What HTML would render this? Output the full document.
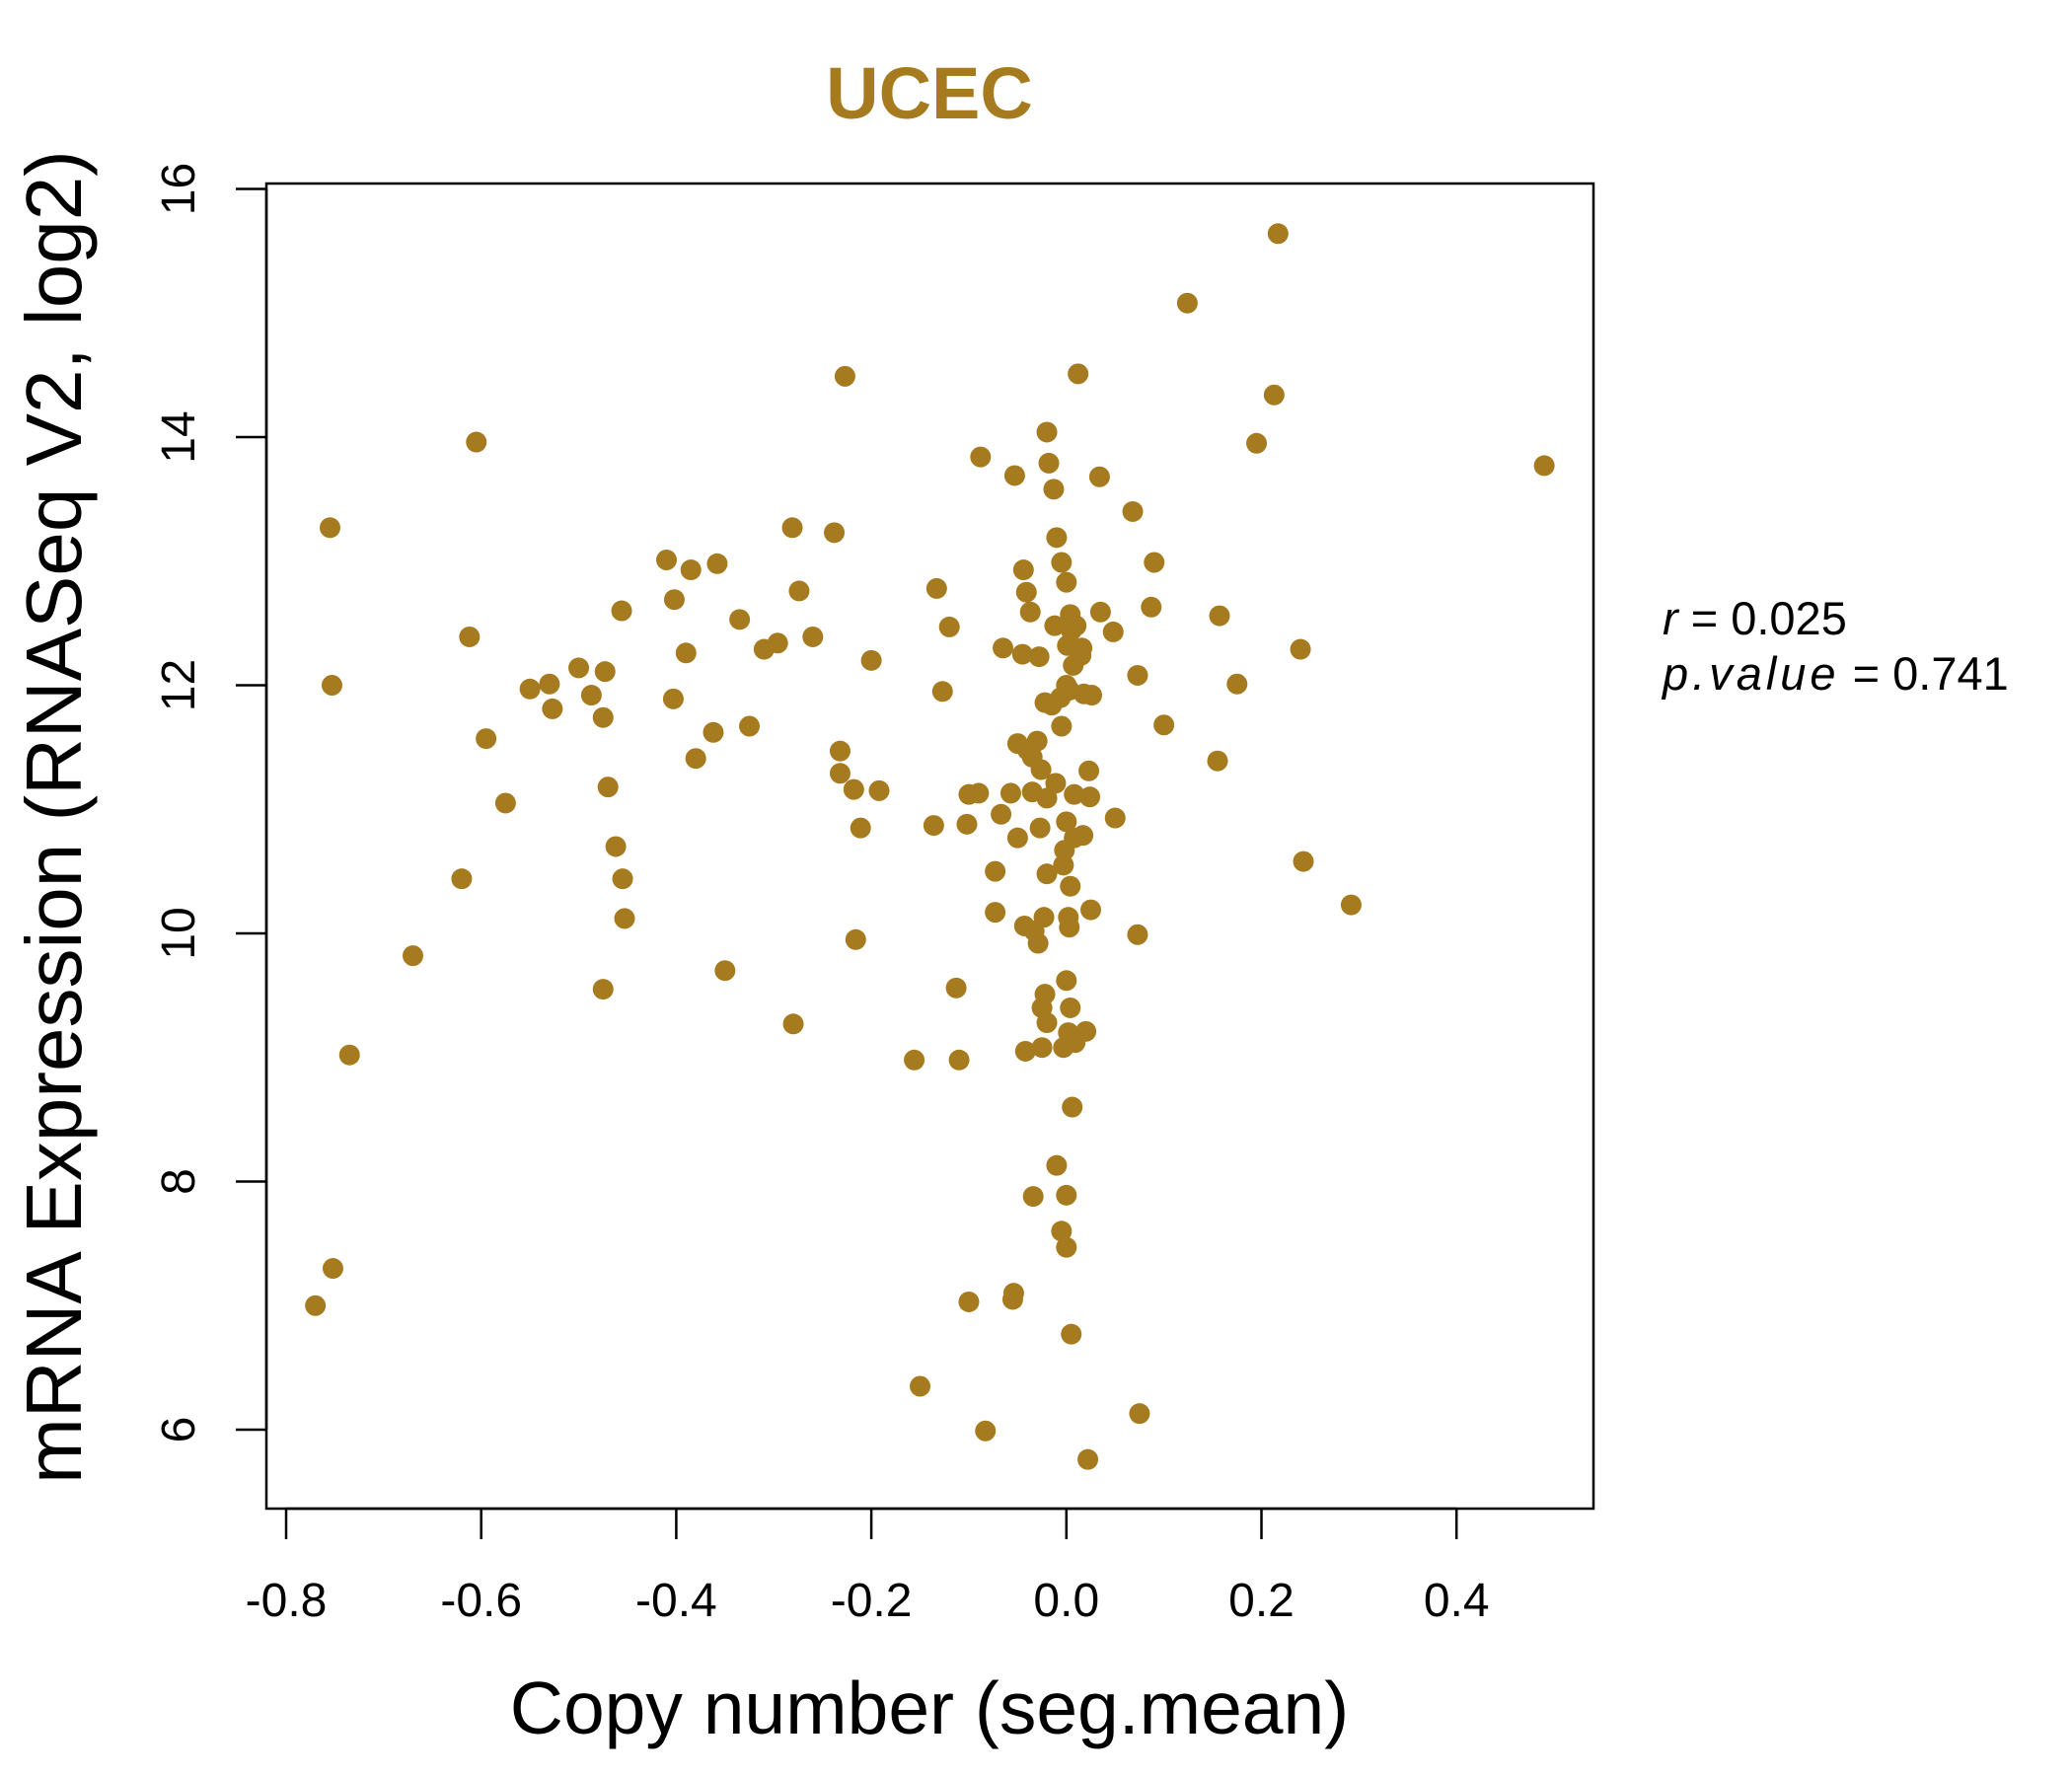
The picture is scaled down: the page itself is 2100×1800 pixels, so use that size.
<!DOCTYPE html>
<html><head><meta charset="utf-8"><style>
body{margin:0;background:#fff}
svg{display:block;font-family:"Liberation Sans",sans-serif}
</style></head><body>
<svg id="chart" width="2100" height="1800" viewBox="0 0 2100 1800">
<rect x="0" y="0" width="2100" height="1800" fill="#fff"/>
<text x="942" y="120" text-anchor="middle" font-size="74" font-weight="bold" fill="#A67A1F">UCEC</text>
<rect x="270" y="186" width="1345" height="1343" fill="none" stroke="#000" stroke-width="2.5"/>
<g id="xticks"></g>
<g id="yticks"></g>
<g id="points"></g>
<text x="942" y="1757" text-anchor="middle" font-size="75">Copy number (seg.mean)</text>
<text transform="translate(82,828) rotate(-90)" text-anchor="middle" font-size="80">mRNA Expression (RNASeq V2, log2)</text>
<text x="1685" y="643" font-size="47"><tspan font-style="italic">r</tspan> = 0.025</text>
<text x="1685" y="699" font-size="47"><tspan font-style="italic" letter-spacing="4">p.value</tspan> = 0.741</text>
</svg>
<script>
const xTicks=[-0.8,-0.6,-0.4,-0.2,0.0,0.2,0.4];
const xTickLabels=["-0.8","-0.6","-0.4","-0.2","0.0","0.2","0.4"];
const yTicks=[6,8,10,12,14,16];
const yTickLabels=["6","8","10","12","14","16"];
const xVals=[-0.77,-0.755,-0.753,-0.752,-0.735,-0.67,-0.62,-0.612,-0.605,-0.595,-0.575,-0.55,-0.53,-0.527,-0.5,-0.487,-0.475,-0.473,-0.47,-0.475,-0.462,-0.456,-0.455,-0.453,-0.41,-0.403,-0.402,-0.39,-0.385,-0.38,-0.362,-0.358,-0.35,-0.335,-0.325,-0.31,-0.296,-0.281,-0.28,-0.274,-0.26,-0.238,-0.232,-0.232,-0.227,-0.218,-0.216,-0.211,-0.2,-0.192,-0.156,-0.15,-0.136,-0.133,-0.127,-0.12,-0.113,-0.11,-0.102,-0.1,-0.1,-0.09,-0.088,-0.083,-0.073,-0.073,-0.067,-0.065,-0.057,-0.055,-0.054,-0.053,-0.05,-0.05,-0.045,-0.044,-0.043,-0.042,-0.041,-0.04,-0.037,-0.035,-0.035,-0.034,-0.033,-0.03,-0.029,-0.028,-0.027,-0.026,-0.025,-0.025,-0.023,-0.022,-0.022,-0.02,-0.02,-0.02,-0.02,-0.018,-0.015,-0.013,-0.012,-0.011,-0.01,-0.01,-0.006,-0.005,-0.005,-0.005,-0.003,-0.003,-0.002,0.0,0.0,0.0,0.0,0.0,0.0,0.001,0.002,0.002,0.003,0.003,0.004,0.004,0.004,0.005,0.005,0.006,0.007,0.008,0.008,0.009,0.01,0.012,0.015,0.016,0.017,0.018,0.02,0.022,0.023,0.024,0.025,0.026,0.034,0.035,0.048,0.05,0.068,0.073,0.073,0.075,0.087,0.09,0.1,0.124,0.155,0.157,0.175,0.195,0.213,0.217,0.24,0.243,0.292,0.49];
const yVals=[7.0,13.27,12.0,7.3,9.02,9.82,10.44,12.39,13.96,11.57,11.05,11.97,12.01,11.81,12.14,11.92,11.74,12.11,11.18,9.55,10.7,12.6,10.44,10.12,13.01,11.89,12.69,12.26,12.93,11.41,11.62,12.98,9.7,12.53,11.67,12.29,12.34,13.27,9.27,12.76,12.39,13.23,11.47,11.29,14.49,11.16,9.95,10.85,12.2,11.15,8.98,6.35,10.87,12.78,11.95,12.47,9.56,8.98,10.88,11.12,7.03,11.13,13.84,5.99,10.5,10.17,10.96,12.3,11.13,7.05,7.1,13.69,11.53,10.77,12.25,12.93,10.06,9.05,12.75,11.48,12.59,11.42,11.14,7.88,10.02,11.55,9.92,12.23,10.85,11.32,9.4,9.08,10.13,11.86,9.51,14.04,10.48,9.28,11.09,13.79,11.84,13.58,12.48,11.21,13.19,8.13,11.9,12.99,11.67,7.6,10.55,9.08,10.67,12.83,12.0,10.9,7.47,9.62,7.89,12.32,10.13,9.2,10.05,11.96,9.4,10.38,12.57,6.77,12.44,8.6,12.16,11.12,10.77,9.12,12.48,14.51,12.24,12.3,10.79,11.93,9.21,5.76,11.31,11.1,10.19,11.92,13.68,12.59,12.43,10.93,13.4,9.99,12.08,6.13,12.63,12.99,11.68,15.08,11.39,12.56,12.01,13.95,14.34,15.64,12.29,10.58,10.23,13.77];
const NS="http://www.w3.org/2000/svg";
function sx(v){return 290+(v+0.8)/0.2*197.7;}
function sy(v){return 1449-(v-6)/2*251.5;}
function mk(tag,attrs,parent){const e=document.createElementNS(NS,tag);for(const k in attrs)e.setAttribute(k,attrs[k]);parent.appendChild(e);return e;}
const gx=document.getElementById('xticks');
mk('line',{x1:sx(xTicks[0]),x2:sx(xTicks[xTicks.length-1]),y1:1529,y2:1529,stroke:'#000','stroke-width':2.5},gx);
xTicks.forEach((t,i)=>{
  const l=mk('line',{x1:sx(t),x2:sx(t),y1:1529,y2:1560,stroke:'#000','stroke-width':2.5},gx);
  
  
  const tx=mk('text',{x:sx(t),y:1638,'text-anchor':'middle','font-size':48},gx);
  tx.textContent=xTickLabels[i];
  
  
});
const gy=document.getElementById('yticks');
mk('line',{x1:270,x2:270,y1:sy(yTicks[0]),y2:sy(yTicks[yTicks.length-1]),stroke:'#000','stroke-width':2.5},gy);
yTicks.forEach((t,i)=>{
  const l=mk('line',{x1:239,x2:270,y1:sy(t),y2:sy(t),stroke:'#000','stroke-width':2.5},gy);
  
  
  const tx=mk('text',{transform:`translate(197,${sy(t)}) rotate(-90)`,'text-anchor':'middle','font-size':48},gy);
  tx.textContent=yTickLabels[i];
  
  
});
const gp=document.getElementById('points');
xVals.forEach((x,i)=>{
  const c=mk('circle',{cx:sx(x),cy:sy(yVals[i]),r:10.5,fill:'#A67A1F'},gp);
  
  
});
</script>
</body></html>
